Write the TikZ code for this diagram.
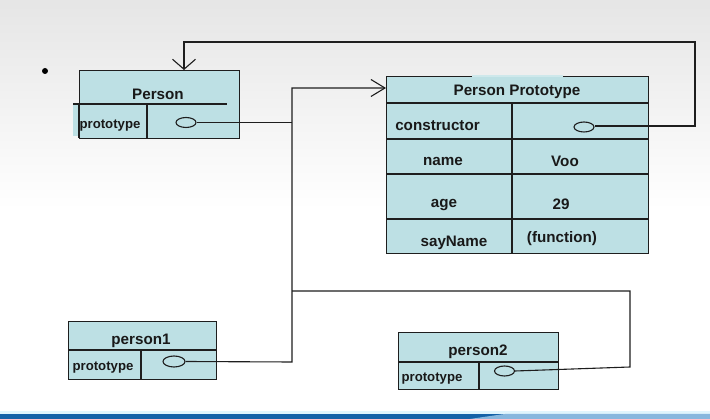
\documentclass[tikz,border=0pt]{standalone}
\usepackage{fontspec}
\setmainfont{Liberation Sans}
\usetikzlibrary{arrows.meta,shapes.geometric}
\definecolor{boxfill}{RGB}{189,224,228}
\definecolor{ln}{RGB}{30,30,30}
\definecolor{txt}{RGB}{25,25,25}
\definecolor{bandblue}{RGB}{20,98,168}
\definecolor{bandlight}{RGB}{135,183,222}
\begin{document}
\begin{tikzpicture}[x=1pt,y=-1pt,
  boxshape/.style={draw=ln, fill=boxfill, line width=1.1pt, anchor=north west, inner sep=0pt},
  sep/.style={draw=ln, line width=1.1pt},
  ttl/.style={font=\fontsize{15.2}{15}\selectfont\bfseries, text=txt, inner sep=0pt},
  cell/.style={font=\fontsize{15.2}{15}\selectfont\bfseries, text=txt, inner sep=0pt},
  small/.style={font=\fontsize{13.2}{13}\selectfont\bfseries, text=txt, inner sep=0pt},
  oval/.style={ellipse, draw=ln, line width=1.1pt, minimum width=20pt, minimum height=10pt, inner sep=0pt},
  conn/.style={draw=ln, line width=1.1pt},
]
\useasboundingbox (0,0) rectangle (710,419);
% background
\shade[top color=black!10, bottom color=white] (0,0) rectangle (710,210);
\fill[white] (0,210) rectangle (710,412);
\fill[cyan!12] (0,411) rectangle (710,414);
\fill[bandblue] (0,414) rectangle (710,419);
\fill[bandlight] (505,414) -- (710,414) -- (710,419) -- (470,419) .. controls (490,416) .. (505,414) -- cycle;
% bullet
\fill[black] (45,71) circle (3);

% Person box
\node[boxshape, minimum width=160pt, minimum height=68pt] (pbox) at (79,70) {};
\fill[boxfill] (73,104) rectangle (147,136);
\draw[sep] (73,104) -- (227,104);
\draw[sep] (147,104) -- (147,138);
\draw[sep] (79,104) -- (79,138);
\node[ttl] (ptitle) at (158,94) {Person};
\node[small] (pproto) at (110,126) {prototype};
\node[oval] (pe) at (186,122.5) {};

% Person Prototype box
\node[boxshape, minimum width=262pt, minimum height=177pt] (pp) at (386,76) {};
\draw[boxfill!75!white, line width=1.3pt] (472,76) -- (563,76);
\draw[sep] (386,103) -- (648,103);
\draw[sep] (386,139) -- (648,139);
\draw[sep] (386,174) -- (648,174);
\draw[sep] (386,219) -- (648,219);
\draw[sep] (512,103) -- (512,253);
\node[ttl] (pptitle) at (517,92) {Person Prototype};
\node[cell] (cons) at (437.5,126) {constructor};
\node[oval] (ce) at (584,127) {};
\node[cell] (nm) at (443,161) {name};
\node[cell] (voo) at (565,161) {Voo};
\node[cell] (ag) at (444,205) {age};
\node[cell] (n29) at (561,204) {29};
\node[cell] (sn) at (454,243) {sayName};
\node[cell] (fn) at (562,239) {(function)};

% person1
\node[boxshape, minimum width=148pt, minimum height=58pt] (p1) at (68,321) {};
\draw[sep] (68,350) -- (216,350);
\draw[sep] (141,350) -- (141,379);
\node[ttl] (p1title) at (141,341) {person1};
\node[small] (p1proto) at (103,368) {prototype};
\node[oval, minimum width=22pt, minimum height=11pt] (p1e) at (174,361.5) {};

% person2
\node[boxshape, minimum width=160pt, minimum height=57pt] (p2) at (398,332) {};
\draw[sep] (398,362) -- (558,362);
\draw[sep] (479,362) -- (479,389);
\node[ttl] (p2title) at (478,352) {person2};
\node[small] (p2proto) at (432,379) {prototype};
\node[oval] (p2e) at (504.5,371) {};

% connectors
\coordinate (jtop) at (292,88);
\coordinate (jp) at (292,122.5);
\coordinate (jmid) at (292,291);
\coordinate (jbot) at (292,362);
\coordinate (r2b) at (630,367);
\coordinate (r2t) at (630,291);
\coordinate (cr) at (695,126);
\coordinate (ctop) at (695,42);
\coordinate (ptop) at (184,42);

\draw[conn, -{Straight Barb[length=14pt,width=17pt]}] (p1e.east) -- (jbot) -- (jtop) -- (pp.west |- jtop);
\draw[conn] (pe.east) -- (jp);
\draw[conn] (p2e.east) -- (r2b) -- (r2t) -- (jmid);
\draw[conn, -{Straight Barb[length=10pt,width=23pt]}] (ce.east |- cr) -- (cr) -- (ctop) -- (ptop) -- (pbox.north -| ptop);
\end{tikzpicture}
\end{document}
